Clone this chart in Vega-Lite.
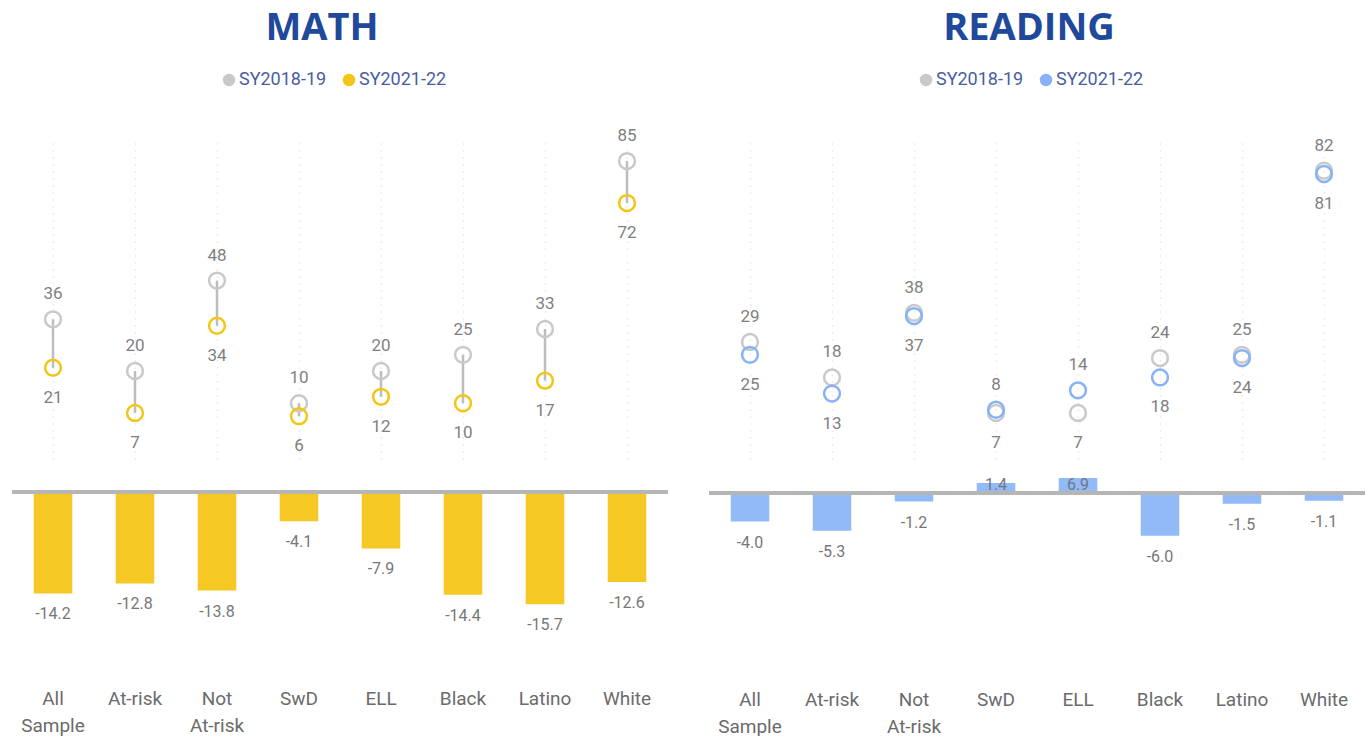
{
  "$schema": "https://vega.github.io/schema/vega-lite/v6.json",
  "padding": {"left": 10, "top": 10, "right": 0, "bottom": 0},
  "background": "white",
  "config": {
    "view": {"stroke": null},
    "font": "Roboto",
    "title": {"font": "Open Sans", "fontSize": 38, "fontWeight": "bold", "color": "#20489b", "anchor": "middle", "offset": 23}
  },
  "datasets": {
    "scores": [
      {"subject": "Math", "group": "All Sample", "SY2018-19": 36, "SY2021-22": 21, "diff": -14.2},
      {"subject": "Math", "group": "At-risk", "SY2018-19": 20, "SY2021-22": 7, "diff": -12.8},
      {"subject": "Math", "group": "Not At-risk", "SY2018-19": 48, "SY2021-22": 34, "diff": -13.8},
      {"subject": "Math", "group": "SwD", "SY2018-19": 10, "SY2021-22": 6, "diff": -4.1},
      {"subject": "Math", "group": "ELL", "SY2018-19": 20, "SY2021-22": 12, "diff": -7.9},
      {"subject": "Math", "group": "Black", "SY2018-19": 25, "SY2021-22": 10, "diff": -14.4},
      {"subject": "Math", "group": "Latino", "SY2018-19": 33, "SY2021-22": 17, "diff": -15.7},
      {"subject": "Math", "group": "White", "SY2018-19": 85, "SY2021-22": 72, "diff": -12.6},
      {"subject": "Reading", "group": "All Sample", "SY2018-19": 29, "SY2021-22": 25, "diff": -4.0},
      {"subject": "Reading", "group": "At-risk", "SY2018-19": 18, "SY2021-22": 13, "diff": -5.3},
      {"subject": "Reading", "group": "Not At-risk", "SY2018-19": 38, "SY2021-22": 37, "diff": -1.2},
      {"subject": "Reading", "group": "SwD", "SY2018-19": 7, "SY2021-22": 8, "diff": 1.4},
      {"subject": "Reading", "group": "ELL", "SY2018-19": 7, "SY2021-22": 14, "diff": 6.9},
      {"subject": "Reading", "group": "Black", "SY2018-19": 24, "SY2021-22": 18, "diff": -6.0},
      {"subject": "Reading", "group": "Latino", "SY2018-19": 25, "SY2021-22": 24, "diff": -1.5},
      {"subject": "Reading", "group": "White", "SY2018-19": 82, "SY2021-22": 81, "diff": -1.1}
    ]
  },
  "resolve": {"scale": {"color": "independent"}},
  "spacing": 37,
  "hconcat": [
    {
      "title": {"text": "MATH", "dx": -18},
      "spacing": 14,
      "vconcat": [
        {
          "width": 656,
          "height": 320,
          "data": {"name": "scores"},
          "transform": [{"filter": "datum.subject === 'Math'"}],
          "encoding": {
            "x": {
              "field": "group", "type": "nominal",
              "sort": ["All Sample", "At-risk", "Not At-risk", "SwD", "ELL", "Black", "Latino", "White"],
              "scale": {"paddingInner": 0.53, "paddingOuter": 0.265},
              "axis": {"labels": false, "ticks": false, "domain": false, "title": null, "grid": true, "bandPosition": 0.5, "gridDash": [1, 6], "gridColor": "#d5dcec", "gridWidth": 1.5}
            }
          },
          "layer": [
            {
              "mark": {"type": "rule", "color": "#bdbdbd", "strokeWidth": 2.5},
              "encoding": {
                "y": {"field": "SY2018-19", "type": "quantitative", "scale": {"domain": [-8.5, 90.6], "nice": false, "zero": false}, "axis": null},
                "y2": {"field": "SY2021-22"}
              }
            },
            {
              "transform": [{"fold": ["SY2018-19", "SY2021-22"], "as": ["year", "score"]}],
              "layer": [
                {
                  "mark": {"type": "point", "shape": "circle", "filled": false, "strokeWidth": 2.5, "size": 250, "opacity": 1},
                  "encoding": {
                    "y": {"field": "score", "type": "quantitative", "scale": {"domain": [-8.5, 90.6], "nice": false, "zero": false}, "axis": null},
                    "color": {
                      "field": "year", "type": "nominal",
                      "scale": {"domain": ["SY2018-19", "SY2021-22"], "range": ["#c9c9c9", "#f3c614"]},
                      "legend": {"title": null, "orient": "none", "direction": "horizontal", "legendX": 208, "legendY": -72, "symbolType": "circle", "symbolSize": 36, "symbolStrokeWidth": 6.5, "labelFontSize": 18, "labelColor": "#4a5e9e", "columnPadding": 6, "symbolOffset": 0, "labelOffset": 1}
                    }
                  }
                },
                {
                  "transform": [
                    {"joinaggregate": [{"op": "max", "field": "score", "as": "maxScore"}], "groupby": ["group"]},
                    {"filter": "datum.score === datum.maxScore"}
                  ],
                  "mark": {"type": "text", "fontSize": 17, "color": "#7f7f7f", "dy": -25},
                  "encoding": {
                    "y": {"field": "score", "type": "quantitative", "scale": {"domain": [-8.5, 90.6], "nice": false, "zero": false}, "axis": null},
                    "text": {"field": "score", "type": "quantitative", "format": "d"}
                  }
                },
                {
                  "transform": [
                    {"joinaggregate": [{"op": "min", "field": "score", "as": "minScore"}], "groupby": ["group"]},
                    {"filter": "datum.score === datum.minScore"}
                  ],
                  "mark": {"type": "text", "fontSize": 17, "color": "#7f7f7f", "dy": 30},
                  "encoding": {
                    "y": {"field": "score", "type": "quantitative", "scale": {"domain": [-8.5, 90.6], "nice": false, "zero": false}, "axis": null},
                    "text": {"field": "score", "type": "quantitative", "format": "d"}
                  }
                }
              ]
            }
          ]
        },
        {
          "width": 656,
          "height": 200,
          "data": {"name": "scores"},
          "transform": [
            {"filter": "datum.subject === 'Math'"},
            {"calculate": "replace(format(datum.diff, '.1f'), '\u2212', '-')", "as": "diffLabel"}
          ],
          "encoding": {
            "x": {
              "field": "group", "type": "nominal",
              "sort": ["All Sample", "At-risk", "Not At-risk", "SwD", "ELL", "Black", "Latino", "White"],
              "scale": {"paddingInner": 0.53, "paddingOuter": 0.265},
              "axis": {"title": null, "ticks": false, "domain": false, "labelAngle": 0, "labelFontSize": 19, "labelColor": "#6b6b6b", "labelPadding": 12, "labelLineHeight": 27, "labelExpr": "split(datum.label, ' ')"}
            }
          },
          "layer": [
            {
              "mark": {"type": "bar", "color": "#f5c823", "clip": true},
              "encoding": {
                "y": {"field": "diff", "type": "quantitative", "scale": {"domain": [-25.9, 2.1], "nice": false, "zero": false}, "axis": null}
              }
            },
            {
              "mark": {"type": "rule", "color": "#b5b5b5", "strokeWidth": 3},
              "encoding": {"y": {"datum": 0, "type": "quantitative"}, "x": null}
            },
            {
              "transform": [{"filter": "datum.diff < 0"}],
              "mark": {"type": "text", "fontSize": 16, "color": "#777777", "dy": 21},
              "encoding": {
                "y": {"field": "diff", "type": "quantitative"},
                "text": {"field": "diffLabel", "type": "nominal"}
              }
            }
          ]
        }
      ]
    },
    {
      "title": {"text": "READING", "dx": -8},
      "spacing": 14,
      "vconcat": [
        {
          "width": 656,
          "height": 320,
          "data": {"name": "scores"},
          "transform": [{"filter": "datum.subject === 'Reading'"}, {"fold": ["SY2018-19", "SY2021-22"], "as": ["year", "score"]}],
          "encoding": {
            "x": {
              "field": "group", "type": "nominal",
              "sort": ["All Sample", "At-risk", "Not At-risk", "SwD", "ELL", "Black", "Latino", "White"],
              "scale": {"paddingInner": 0.53, "paddingOuter": 0.265},
              "axis": {"labels": false, "ticks": false, "domain": false, "title": null, "grid": true, "bandPosition": 0.5, "gridDash": [1, 6], "gridColor": "#d5dcec", "gridWidth": 1.5}
            },
            "y": {"field": "score", "type": "quantitative", "scale": {"domain": [-8.5, 90.6], "nice": false, "zero": false}, "axis": null}
          },
          "layer": [
            {
              "mark": {"type": "point", "shape": "circle", "filled": false, "strokeWidth": 2.5, "size": 250, "opacity": 1},
              "encoding": {
                "color": {
                  "field": "year", "type": "nominal",
                  "scale": {"domain": ["SY2018-19", "SY2021-22"], "range": ["#c9c9c9", "#87b2f6"]},
                  "legend": {"title": null, "orient": "none", "direction": "horizontal", "legendX": 208, "legendY": -72, "symbolType": "circle", "symbolSize": 36, "symbolStrokeWidth": 6.5, "labelFontSize": 18, "labelColor": "#4a5e9e", "columnPadding": 6, "symbolOffset": 0, "labelOffset": 1}
                }
              }
            },
            {
              "transform": [
                {"joinaggregate": [{"op": "max", "field": "score", "as": "maxScore"}], "groupby": ["group"]},
                {"filter": "datum.score === datum.maxScore"}
              ],
              "mark": {"type": "text", "fontSize": 17, "color": "#7f7f7f", "dy": -25},
              "encoding": {"text": {"field": "score", "type": "quantitative", "format": "d"}}
            },
            {
              "transform": [
                {"joinaggregate": [{"op": "min", "field": "score", "as": "minScore"}], "groupby": ["group"]},
                {"filter": "datum.score === datum.minScore"}
              ],
              "mark": {"type": "text", "fontSize": 17, "color": "#7f7f7f", "dy": 30},
              "encoding": {"text": {"field": "score", "type": "quantitative", "format": "d"}}
            }
          ]
        },
        {
          "width": 656,
          "height": 200,
          "data": {"name": "scores"},
          "transform": [
            {"filter": "datum.subject === 'Reading'"},
            {"calculate": "replace(format(datum.diff, '.1f'), '\u2212', '-')", "as": "diffLabel"}
          ],
          "encoding": {
            "x": {
              "field": "group", "type": "nominal",
              "sort": ["All Sample", "At-risk", "Not At-risk", "SwD", "ELL", "Black", "Latino", "White"],
              "scale": {"paddingInner": 0.53, "paddingOuter": 0.265},
              "axis": {"title": null, "ticks": false, "domain": false, "labelAngle": 0, "labelFontSize": 19, "labelColor": "#6b6b6b", "labelPadding": 12, "labelLineHeight": 27, "labelExpr": "split(datum.label, ' ')"}
            }
          },
          "layer": [
            {
              "mark": {"type": "bar", "color": "#92baf7", "clip": true},
              "encoding": {
                "y": {"field": "diff", "type": "quantitative", "scale": {"domain": [-25.9, 2.1], "nice": false, "zero": false}, "axis": null}
              }
            },
            {
              "mark": {"type": "rule", "color": "#b5b5b5", "strokeWidth": 3},
              "encoding": {"y": {"datum": 0, "type": "quantitative"}, "x": null}
            },
            {
              "transform": [{"filter": "datum.diff < 0"}],
              "mark": {"type": "text", "fontSize": 16, "color": "#777777", "dy": 21},
              "encoding": {
                "y": {"field": "diff", "type": "quantitative"},
                "text": {"field": "diffLabel", "type": "nominal"}
              }
            },
            {
              "transform": [{"filter": "datum.diff > 0"}],
              "mark": {"type": "text", "fontSize": 16, "color": "#6f7785", "dy": -8},
              "encoding": {
                "y": {"datum": 0, "type": "quantitative"},
                "text": {"field": "diffLabel", "type": "nominal"}
              }
            }
          ]
        }
      ]
    }
  ]
}
